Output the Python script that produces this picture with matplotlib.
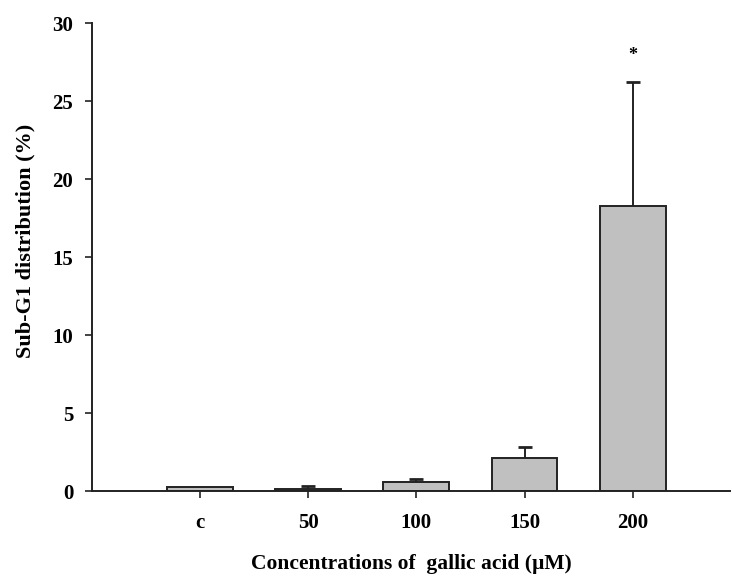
import matplotlib
matplotlib.use("Agg")
import matplotlib.pyplot as plt

# Sub-G1 fraction after gallic acid treatment
categories = ["c", "50", "100", "150", "200"]
means = [0.28, 0.15, 0.58, 2.13, 18.3]
sd_upper = [0.0, 0.15, 0.21, 0.67, 7.9]
significant = [False, False, False, False, True]

plt.rcParams["font.family"] = ["Liberation Serif", "DejaVu Serif"]
plt.rcParams["font.weight"] = "bold"

fig = plt.figure(figsize=(7.32, 5.81), dpi=100)
ax = fig.add_axes([0.1257, 0.1549, 0.8715, 0.8055])

x = list(range(len(categories)))
ax.bar(x, means, width=0.61, color="#c0c0c0", edgecolor="#222222",
       linewidth=1.4, zorder=2)
err = ax.errorbar(x, means, yerr=[[0] * len(sd_upper), sd_upper], fmt="none",
                  ecolor="#222222", elinewidth=1.4, capsize=5, capthick=2.0,
                  zorder=3)
# one-sided bars: hide the lower caps
err[1][0].set_visible(False)
# no whisker where the spread is zero
err[1][1].set_markevery([i for i, e in enumerate(sd_upper) if e > 0])

for xi, m, e, s in zip(x, means, sd_upper, significant):
    if s:
        ax.text(xi, m + e + 1.7, "*", ha="center", va="center",
                fontsize=13, fontweight="bold")

ax.set_xlim(-1.0, 4.9)
ax.set_ylim(0, 30)
ax.set_yticks(range(0, 31, 5))
ax.set_xticks(x)
ax.set_xticklabels(categories)

for side in ("top", "right"):
    ax.spines[side].set_visible(False)
for side in ("left", "bottom"):
    ax.spines[side].set_linewidth(1.4)
    ax.spines[side].set_color("#222222")

ax.tick_params(axis="both", direction="out", length=5, width=1.2,
               color="#222222", labelsize=15)
ax.tick_params(axis="y", pad=8.5)
ax.tick_params(axis="x", pad=11)

ax.set_xlabel("Concentrations of  gallic acid (\u00b5M)", fontsize=15.5,
              fontweight="bold", labelpad=15)
ax.set_ylabel("Sub-G1 distribution (%)", fontsize=16, fontweight="bold")
ax.yaxis.set_label_coords(-0.088, 0.534)

fig.savefig("out.png", dpi=100)
